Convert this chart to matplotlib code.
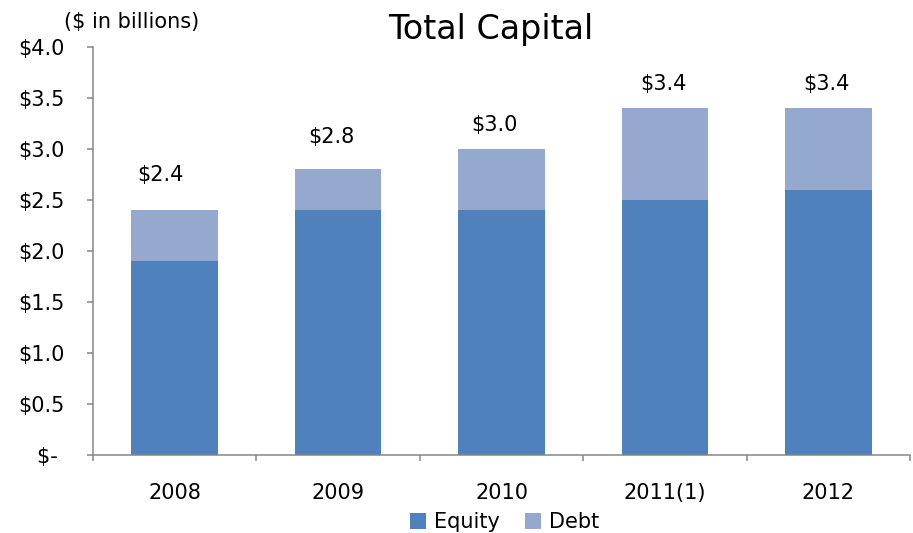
import numpy as np
import matplotlib
matplotlib.use('Agg')
import matplotlib.pyplot as plt

# ── data ($ in billions) ──
years  = ['2008', '2009', '2010', '2011(1)', '2012']
equity = [1.9, 2.4, 2.4, 2.5, 2.6]
debt   = [0.5, 0.4, 0.6, 0.9, 0.8]
totals = ['$2.4', '$2.8', '$3.0', '$3.4', '$3.4']
yticks = [0.0, 0.5, 1.0, 1.5, 2.0, 2.5, 3.0, 3.5, 4.0]
ylabels = ['$- ', '$0.5', '$1.0', '$1.5', '$2.0', '$2.5', '$3.0', '$3.5', '$4.0']

# label nudges (data units above the stack, pixels sideways) – manual text boxes in the original
lab_dy = [0.345, 0.32, 0.235, 0.24, 0.24]
lab_dx = [-14, -7, -7, -2, -2]

C_EQ, C_DEBT, C_AX = '#4F81BD', '#95A9CF', '#868686'
FS = 15

fig = plt.figure(figsize=(9.13, 5.33), dpi=100)
ax = fig.add_axes([0.1019, 0.1463, 0.8949, 0.7655])

x = np.arange(len(years))
ax.bar(x, equity, width=0.53, color=C_EQ, label='Equity')
ax.bar(x, debt, width=0.53, bottom=equity, color=C_DEBT, label='Debt')

for i, t in enumerate(totals):
    top = equity[i] + debt[i]
    ax.annotate(t, (x[i], top + lab_dy[i]), xytext=(lab_dx[i], 0),
                textcoords='offset pixels', ha='center', va='center', fontsize=FS)

ax.set_xlim(-0.5, len(years) - 0.5)
ax.set_ylim(0, 4.0)
ax.set_yticks(yticks)
ax.set_yticklabels(ylabels, fontsize=FS)
ax.tick_params(axis='y', direction='out', length=4.5, width=1.1, color=C_AX, pad=16)

# ticks between categories, labels at centres
ax.set_xticks(np.arange(-0.5, len(years)))
ax.set_xticklabels([])
ax.set_xticks(x, minor=True)
ax.set_xticklabels(years, minor=True, fontsize=FS)
ax.tick_params(axis='x', which='major', direction='out', length=4.5, width=1.1, color=C_AX)
ax.tick_params(axis='x', which='minor', length=0, pad=20)

for s in ['top', 'right']:
    ax.spines[s].set_visible(False)
for s in ['left', 'bottom']:
    ax.spines[s].set_color(C_AX)
    ax.spines[s].set_linewidth(1.1)

fig.text(0.537, 0.945, 'Total Capital', ha='center', va='center', fontsize=24)
fig.text(0.144, 0.958, '($ in billions)', ha='center', va='center', fontsize=FS)

fig.legend(loc='center', bbox_to_anchor=(0.553, 0.02), ncol=2, frameon=False,
           fontsize=FS, handlelength=0.75, handleheight=0.75, handletextpad=0.4,
           columnspacing=1.2)

fig.savefig('out.png', dpi=100)
